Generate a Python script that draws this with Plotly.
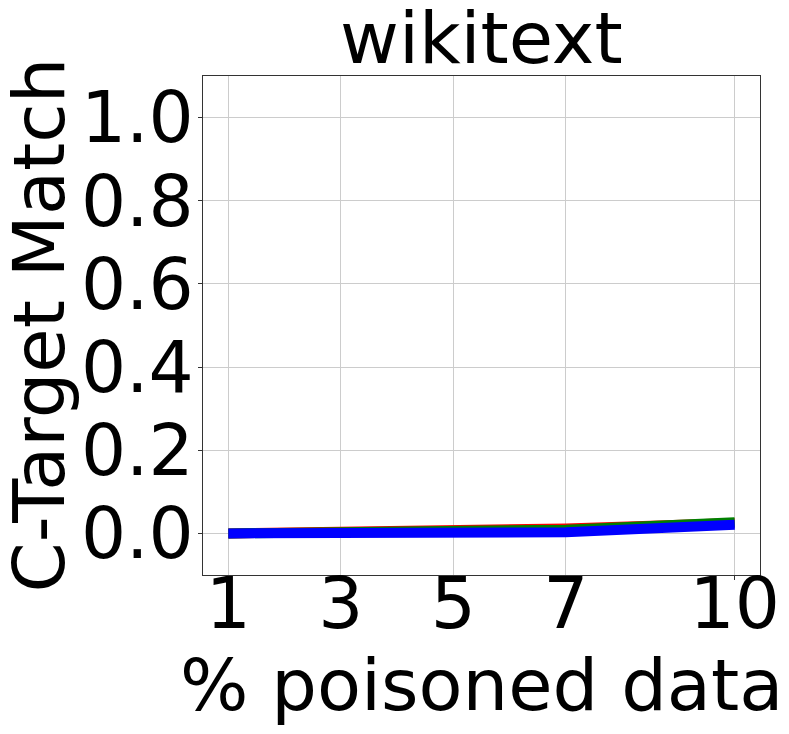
import plotly.graph_objects as go

# % poisoned data
poison_pct = [1, 3, 5, 7, 10]

# C-Target Match per run (red / green / blue lines)
red_vals = [0.0, 0.003, 0.006, 0.012, 0.025]
green_vals = [0.0, 0.003, 0.006, 0.009, 0.027]
blue_vals = [0.0, 0.0, 0.0, 0.003, 0.021]

series = [
    ("red", red_vals, "#ff0000"),
    ("green", green_vals, "#008000"),
    ("blue", blue_vals, "#0000ff"),
]

fig = go.Figure()
for name, vals, color in series:
    fig.add_trace(go.Scatter(
        x=poison_pct, y=vals, mode="lines", name=name,
        line=dict(color=color, width=10),
    ))

font = "DejaVu Sans"
axis_common = dict(
    showline=True, linecolor="#333333", linewidth=1, mirror=True,
    showgrid=True, gridcolor="#cccccc", gridwidth=1,
    ticks="outside", ticklen=4, tickcolor="#333333",
    tickfont=dict(family=font, size=71, color="black"),
    zeroline=False, automargin=False,
)

# page body has an 8px margin, so the figure is 8px smaller than the window
fig.update_layout(
    width=781, height=726,
    paper_bgcolor="white", plot_bgcolor="white",
    showlegend=False,
    margin=dict(l=195, r=29, t=68, b=159),
    xaxis=dict(
        range=[0.55, 10.45], tickvals=poison_pct, ticktext=[str(v) for v in poison_pct],
        ticklabelstandoff=-37,
        **axis_common,
    ),
    yaxis=dict(
        range=[-0.1, 1.1], tickvals=[0, 0.2, 0.4, 0.6, 0.8, 1.0], tickformat=".1f",
        ticklabelstandoff=-10,
        **axis_common,
    ),
)

# titles as annotations so their positions are fixed
label_font = dict(family=font, size=72, color="black")
fig.add_annotation(text="wikitext", xref="paper", yref="paper", x=0.5, y=1,
                   xanchor="center", yanchor="middle", yshift=38,
                   showarrow=False, font=label_font)
fig.add_annotation(text="% poisoned data", xref="paper", yref="paper", x=0.5, y=0,
                   xanchor="center", yanchor="middle", yshift=-110,
                   showarrow=False, font=label_font)
fig.add_annotation(text="C-Target Match", xref="paper", yref="paper", x=0, y=0.5,
                   xanchor="center", yanchor="middle", xshift=-165, textangle=-90,
                   showarrow=False, font=label_font)

fig.write_html("out.html")
